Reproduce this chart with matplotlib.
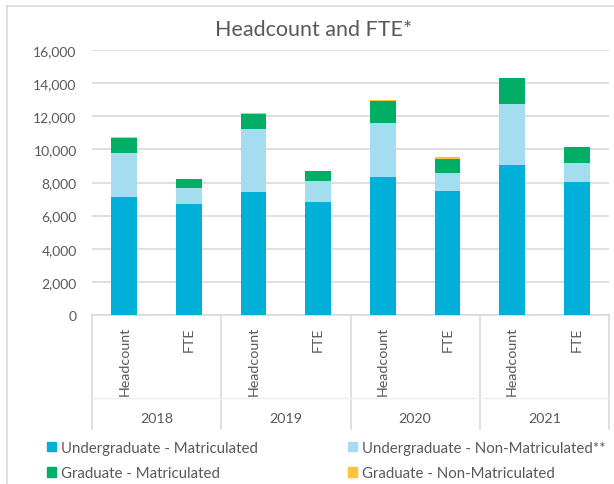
import matplotlib
matplotlib.use("Agg")
import matplotlib.pyplot as plt
from matplotlib.patches import Patch
from matplotlib.ticker import FuncFormatter
import matplotlib.transforms as mtransforms

plt.rcParams["font.family"] = ["Lato", "DejaVu Sans"]

years = ["2018", "2019", "2020", "2021"]
measures = ["Headcount", "FTE"]

# stacked segments, order: Headcount 2018, FTE 2018, Headcount 2019, ...
ug_matric = [7110, 6690, 7410, 6850, 8320, 7490, 9070, 8040]
ug_nonmatric = [2690, 970, 3800, 1230, 3280, 1060, 3680, 1150]
grad_matric = [890, 560, 930, 630, 1350, 880, 1530, 950]
grad_nonmatric = [60, 10, 60, 10, 5, 100, 10, 10]

series = [
    ("Undergraduate - Matriculated", ug_matric, "#00b0d8"),
    ("Undergraduate - Non-Matriculated**", ug_nonmatric, "#a5ddf0"),
    ("Graduate - Matriculated", grad_matric, "#00ae65"),
    ("Graduate - Non-Matriculated", grad_nonmatric, "#fec33a"),
]

text_col = "#595959"
grid_col = "#d9d9d9"

W, H = 614, 485
fig = plt.figure(figsize=(W / 100, H / 100), dpi=100)

# chart frame (left and top edges visible)
fig.add_artist(plt.Line2D([7 / W, 7 / W], [0, 1 - 7 / H], color=grid_col, lw=1.2))
fig.add_artist(plt.Line2D([7 / W, 1], [1 - 7 / H, 1 - 7 / H], color=grid_col, lw=1.2))

ax = fig.add_axes([92 / W, 1 - 316 / H, (609 - 92) / W, (316 - 51) / H])

x = list(range(len(ug_matric)))
bottom = [0] * len(x)
for name, vals, col in series:
    ax.bar(x, vals, width=0.4, bottom=bottom, color=col, label=name, zorder=3)
    bottom = [b + v for b, v in zip(bottom, vals)]

ax.set_xlim(-0.5, len(x) - 0.5)
ax.set_ylim(0, 16000)
ax.set_yticks(range(0, 16001, 2000))
ax.yaxis.set_major_formatter(FuncFormatter(lambda v, p: f"{int(v):,}"))
ax.tick_params(axis="y", length=0, pad=11, labelsize=10, labelcolor=text_col)
ax.set_xticks([])
ax.grid(axis="y", color=grid_col, lw=1.2, zorder=0)
for s in ["top", "right", "left"]:
    ax.spines[s].set_visible(False)
ax.spines["bottom"].set_color(grid_col)
ax.spines["bottom"].set_linewidth(1.2)

# multi-level category axis
trans = mtransforms.blended_transform_factory(ax.transData, ax.transAxes)
ax_h = 316 - 51
for i in x:
    ax.text(i, -11 / ax_h, measures[i % 2], rotation=90, ha="center", va="top",
            fontsize=10.3, color=text_col, transform=trans)
for k, yr in enumerate(years):
    ax.text(2 * k + 0.5, -103 / ax_h, yr, ha="center", va="center",
            fontsize=10.3, color=text_col, transform=trans)
for k in range(len(years) + 1):
    ax.plot([2 * k - 0.5, 2 * k - 0.5], [0, -114 / ax_h], color=grid_col, lw=1.2,
            transform=trans, clip_on=False)
ax.plot([-0.5, len(x) - 0.5], [-83 / ax_h, -83 / ax_h], color="#eeeeee", lw=1,
        transform=trans, clip_on=False)

fig.text(314 / W, 1 - 30 / H, "Headcount and FTE*", ha="center", va="center",
         fontsize=15.5, color=text_col)

# legend: fill column-wise so rows read UG-M / UG-NM, G-M / G-NM
order = [0, 2, 1, 3]
handles = [Patch(color=series[j][2]) for j in order]
labels = [series[j][0] for j in order]
fig.legend(handles, labels, ncol=2, loc="upper left",
           bbox_to_anchor=(47 / W, 1 - 442 / H), frameon=False,
           fontsize=10.8, labelcolor=text_col, handlelength=0.6, handleheight=0.6,
           handletextpad=0.3, columnspacing=6.05, labelspacing=0.75,
           borderaxespad=0, borderpad=0)

fig.savefig("out.png", dpi=100)
